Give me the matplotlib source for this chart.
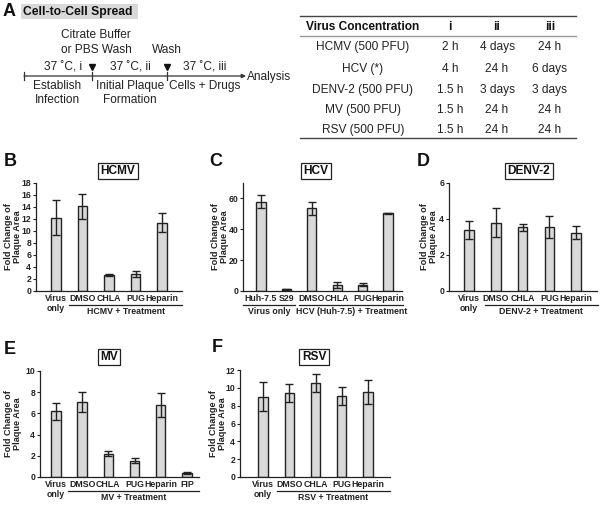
import numpy as np
import matplotlib
matplotlib.use("Agg")
import matplotlib.pyplot as plt
from matplotlib.patches import Rectangle
from matplotlib.transforms import offset_copy

plt.rcParams['font.family'] = ['Liberation Sans', 'DejaVu Sans']

# ---- data ----
hcmv_labels = ["Virus\nonly", "DMSO", "CHLA", "PUG", "Heparin"]
hcmv_mean = [12.2, 14.1, 2.7, 2.8, 11.4]
hcmv_err = [2.9, 2.1, 0.2, 0.5, 1.6]

hcv_labels = ["Huh-7.5", "S29", "DMSO", "CHLA", "PUG", "Heparin"]
hcv_mean = [58.0, 1.2, 53.5, 4.0, 4.0, 50.5]
hcv_err = [4.5, 0.4, 4.5, 2.0, 1.0, 0.3]

denv_labels = ["Virus\nonly", "DMSO", "CHLA", "PUG", "Heparin"]
denv_mean = [3.4, 3.8, 3.55, 3.55, 3.25]
denv_err = [0.5, 0.8, 0.2, 0.6, 0.38]

mv_labels = ["Virus\nonly", "DMSO", "CHLA", "PUG", "Heparin", "FIP"]
mv_mean = [6.2, 7.1, 2.2, 1.55, 6.8, 0.4]
mv_err = [0.8, 0.95, 0.22, 0.25, 1.15, 0.1]

rsv_labels = ["Virus\nonly", "DMSO", "CHLA", "PUG", "Heparin"]
rsv_mean = [9.0, 9.4, 10.5, 9.1, 9.55]
rsv_err = [1.6, 1.0, 1.0, 1.0, 1.35]

table_header = ["Virus Concentration", "i", "ii", "iii"]
table_virus = ["HCMV (500 PFU)", "HCV (*)", "DENV-2 (500 PFU)", "MV (500 PFU)", "RSV (500 PFU)"]
table_i = ["2 h", "4 h", "1.5 h", "1.5 h", "1.5 h"]
table_ii = ["4 days", "24 h", "3 days", "24 h", "24 h"]
table_iii = ["24 h", "6 days", "3 days", "24 h", "24 h"]

W, H = 600, 508
fig = plt.figure(figsize=(W / 100, H / 100), dpi=100)

# overlay axes in pixel coords for panel A, letters and titles
ov = fig.add_axes([0, 0, 1, 1], zorder=-1)
ov.set_xlim(0, W)
ov.set_ylim(H, 0)
ov.axis("off")

DARK = "#222222"


def px_axes(l, r, t, b):
    return fig.add_axes([l / W, 1 - b / H, (r - l) / W, (b - t) / H])


def bar_panel(box, labels, mean, err, ylim, yticks, xlim, groups, ylab_off):
    ax = px_axes(*box)
    x = np.arange(len(mean))
    ax.bar(x, mean, width=0.36, color="#d9d9d9", edgecolor=DARK, linewidth=1.0, zorder=2)
    ax.errorbar(x, mean, yerr=err, fmt="none", ecolor=DARK, elinewidth=1.0,
                capsize=3.2, capthick=1.0, zorder=3)
    ax.set_xlim(*xlim)
    ax.set_ylim(*ylim)
    ax.set_yticks(yticks)
    ax.set_xticks(x)
    ax.set_xticklabels(labels, fontsize=6.3, fontweight="bold", linespacing=1.15)
    ax.tick_params(axis="x", length=0, pad=2, colors=DARK)
    ax.tick_params(axis="y", length=2.5, width=0.8, pad=1, labelsize=6.2, colors=DARK)
    for t in ax.get_yticklabels():
        t.set_fontweight("bold")
    for s in ["top", "right"]:
        ax.spines[s].set_visible(False)
    for s in ["left", "bottom"]:
        ax.spines[s].set_linewidth(0.9)
        ax.spines[s].set_color(DARK)
    ax.set_ylabel("Fold Change of\nPlaque Area", fontsize=6.6, fontweight="bold",
                  linespacing=0.9, color=DARK)
    ax.yaxis.label.set_va("center")
    ax.yaxis.set_label_coords(-ylab_off / (box[1] - box[0]), 0.5)
    line_tr = offset_copy(ax.get_xaxis_transform(), fig=fig, y=-14, units="dots")
    txt_tr = offset_copy(ax.get_xaxis_transform(), fig=fig, y=-21, units="dots")
    for x0, x1, name in groups:
        ax.plot([x0, x1], [0, 0], color=DARK, lw=0.9, transform=line_tr, clip_on=False)
        ax.text((x0 + x1) / 2, 0, name, transform=txt_tr, ha="center", va="center",
                fontsize=6.3, fontweight="bold", color=DARK)
    return ax


bar_panel((36, 182, 183, 291), hcmv_labels, hcmv_mean, hcmv_err, (0, 18), range(0, 19, 2),
          (-0.75, 4.75), [(0.5, 4.75, "HCMV + Treatment")], 23)
bar_panel((243, 402, 183, 291), hcv_labels, hcv_mean, hcv_err, (0, 70), [0, 20, 40, 60],
          (-0.71, 5.55), [(-0.7, 1.35, "Virus only"), (1.5, 5.6, "HCV (Huh-7.5) + Treatment")], 23)
bar_panel((449, 597, 183, 291), denv_labels, denv_mean, denv_err, (0, 6), [0, 2, 4, 6],
          (-0.75, 4.78), [(0.6, 4.8, "DENV-2 + Treatment")], 20)
bar_panel((40, 199, 371, 477), mv_labels, mv_mean, mv_err, (0, 10), range(0, 11, 2),
          (-0.61, 5.46), [(0.46, 5.46, "MV + Treatment")], 27)
bar_panel((240, 390, 370, 477), rsv_labels, rsv_mean, rsv_err, (0, 12), range(0, 13, 2),
          (-0.88, 4.84), [(0.53, 4.84, "RSV + Treatment")], 22)

# panel titles and letters
titles = [("HCMV", 118, 171), ("HCV", 316, 171), ("DENV-2", 529, 171), ("MV", 109, 357), ("RSV", 314, 357)]
for name, tx, ty in titles:
    ov.text(tx, ty, name, ha="center", va="center", fontsize=8.6, fontweight="bold", color="#111111",
            bbox=dict(boxstyle="square,pad=0.2", fc="white", ec=DARK, lw=0.9))
letters = [("A", 9, 12), ("B", 10, 161), ("C", 216, 162), ("D", 423, 161), ("E", 10, 350), ("F", 217, 348)]
for name, lx, ly in letters:
    ov.text(lx, ly, name, ha="center", va="center", fontsize=13, fontweight="bold", color="#111111")

# panel A: header
ov.add_patch(Rectangle((21, 4), 117, 15, facecolor="#d9d9d9", edgecolor="none"))
ov.text(23, 12, "Cell-to-Cell Spread", ha="left", va="center", fontsize=8.7, fontweight="bold",
        color="#111111")

# panel A: timeline
tl_y = 76
ov.annotate("", xy=(246, tl_y), xytext=(24, tl_y),
            arrowprops=dict(arrowstyle="-|>", color="#333333", lw=0.9, mutation_scale=6,
                            shrinkA=0, shrinkB=0))
for tx in [24, 92, 167]:
    ov.plot([tx, tx], [tl_y - 4, tl_y + 4], color="#333333", lw=0.9)
for tx in [92, 167]:
    ov.plot(tx, 67, marker="v", color="#111111", markersize=4.5)
tfs = 8.6
ov.text(96, 35, "Citrate Buffer", ha="center", va="center", fontsize=tfs, color=DARK)
ov.text(96, 50, "or PBS Wash", ha="center", va="center", fontsize=tfs, color=DARK)
ov.text(167, 50, "Wash", ha="center", va="center", fontsize=tfs, color=DARK)
ov.text(63, 68, "37 ˚C, i", ha="center", va="center", fontsize=tfs, color=DARK)
ov.text(130, 68, "37 ˚C, ii", ha="center", va="center", fontsize=tfs, color=DARK)
ov.text(205, 68, "37 ˚C, iii", ha="center", va="center", fontsize=tfs, color=DARK)
ov.text(247, 77, "Analysis", ha="left", va="center", fontsize=tfs, color=DARK)
ov.text(57, 86, "Establish", ha="center", va="center", fontsize=tfs, color=DARK)
ov.text(57, 100, "Infection", ha="center", va="center", fontsize=tfs, color=DARK)
ov.text(130, 86, "Initial Plaque", ha="center", va="center", fontsize=tfs, color=DARK)
ov.text(130, 100, "Formation", ha="center", va="center", fontsize=tfs, color=DARK)
ov.text(205, 86, "Cells + Drugs", ha="center", va="center", fontsize=tfs, color=DARK)

# panel A: table
col_x = [363, 450, 497, 550]
ov.plot([300, 576], [16, 16], color="#444444", lw=1.0)
ov.plot([300, 576], [36, 36], color="#999999", lw=1.0)
ov.plot([300, 576], [138, 138], color="#444444", lw=1.0)
for cx, h in zip(col_x, table_header):
    ov.text(cx, 27, h, ha="center", va="center", fontsize=8.6, fontweight="bold", color="#111111")
row_y = [47, 69, 90, 110, 130]
for ry, a, b, c, d in zip(row_y, table_virus, table_i, table_ii, table_iii):
    for cx, s in zip(col_x, [a, b, c, d]):
        ov.text(cx, ry, s, ha="center", va="center", fontsize=8.6, color=DARK)

fig.savefig("out.png", dpi=100)
